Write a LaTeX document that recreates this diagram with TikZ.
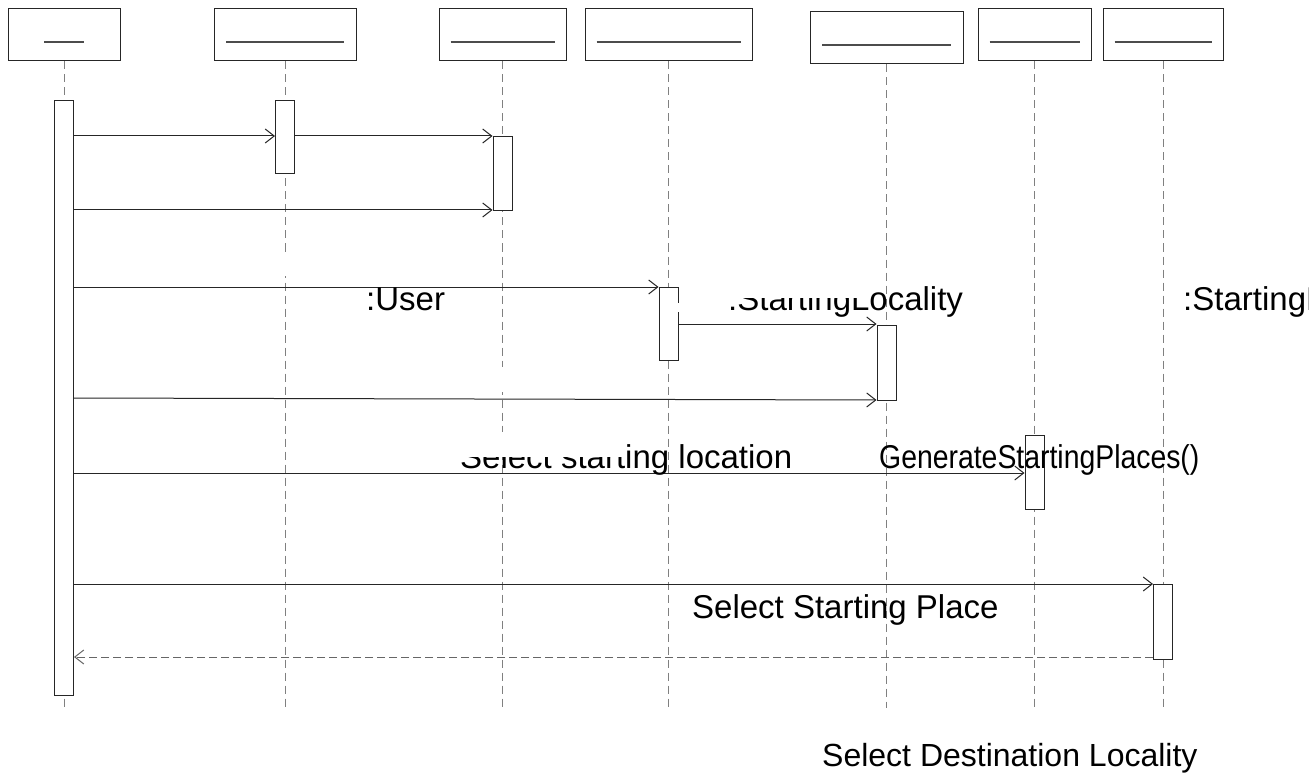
\documentclass[tikz,border=0pt]{standalone}
\usepackage{fontspec}
\setmainfont{Liberation Sans}
\usetikzlibrary{arrows.meta}
\begin{document}
\begin{tikzpicture}[x=1pt,y=-1pt,
  head/.style={draw=black!85, line width=1pt, fill=white, inner sep=0pt, minimum height=52pt},
  uline/.style={draw=black!70, line width=2.5pt},
  life/.style={draw=black!50, line width=1pt, dash pattern=on 8pt off 5pt},
  bar/.style={draw=black!85, line width=1pt, fill=white, inner sep=0pt, minimum width=19pt, anchor=north},
  msg/.style={draw=black!85, line width=1pt, -{Straight Barb[length=9pt,width=14pt,line width=1pt]}},
  ret/.style={msg, draw=black!60, dash pattern=on 8pt off 4pt},
  lbl/.style={anchor=base west, inner sep=0pt, font=\fontsize{33pt}{40pt}\selectfont},
  mask/.style={fill=white, draw=none}]

% canvas
\fill[white] (0,0) rectangle (1309,778);
\path[use as bounding box] (0,0) rectangle (1309,778);
\clip (0,0) rectangle (1309,778);

% object heads with empty underlined names
\foreach \n/\cx/\cy/\w/\hw in {h1/64/35/112/20, h2/285/35/142/59, h3/502.5/35/127/52,
    h4/668.5/35/167/72, h5/886.5/38/153/64.5, h6/1034.5/35/113/45, h7/1163/35/120/48.5}{
  \node[head, minimum width=\w pt] (\n) at (\cx,\cy) {};
  \draw[uline] ([xshift=-\hw pt, yshift=-7pt]\n.center) -- ([xshift=\hw pt, yshift=-7pt]\n.center);
}

% lifelines
\coordinate (bottom) at (0,708);
\foreach \n in {h1,h2,h3,h4,h5,h6,h7}{
  \draw[life] (\n.south) -- (\n.south |- bottom);
}

% activation bars
\node[bar, minimum height=595pt] (a1) at (h1.center |- 0,100) {};
\node[bar, minimum height=73pt]  (a2) at (h2.center |- 0,100) {};
\node[bar, minimum height=74pt]  (a3) at (h3.center |- 0,136) {};
\node[bar, minimum height=73pt]  (a4) at (h4.center |- 0,287) {};
\node[bar, minimum height=75pt]  (a5) at (h5.center |- 0,325) {};
\node[bar, minimum height=74pt]  (a6) at (h6.center |- 0,435) {};
\node[bar, minimum height=75pt]  (a7) at (h7.center |- 0,584) {};

% message levels
\coordinate (m1) at (0,136);
\coordinate (m2) at (0,210);
\coordinate (m3) at (0,287);
\coordinate (m4) at (0,324);
\coordinate (m5a) at (0,398);
\coordinate (m5b) at (0,400);
\coordinate (m6) at (0,473);
\coordinate (m7) at (0,584);
\coordinate (m8) at (0,657);

% messages
\draw[msg] (a1.east |- m1) -- (a2.west |- m1);
\draw[msg] (a2.east |- m1) -- (a3.west |- m1);
\draw[msg] (a1.east |- m2) -- (a3.west |- m2);
\draw[msg] (a1.east |- m3) -- (a4.west |- m3);
\draw[msg] (a4.east |- m4) -- (a5.west |- m4);
\draw[msg] (a1.east |- m5a) -- (a5.west |- m5b);
\draw[msg] (a1.east |- m6) -- (a6.west |- m6);
\draw[msg] (a1.east |- m7) -- (a7.west |- m7);
\draw[ret] (a7.west |- m8) -- (a1.east |- m8);

% labels
\node[lbl] (t1) at (366,310) {:User};
\node[lbl] (t2) at (728,310) {:StartingLocality};
\node[lbl] (t3) at (1183,310) {:StartingPlace};
\node[lbl] (t4) at (460,468) {Select starting location};
\node[lbl] (t5) at (879,468) {\scalebox{0.86}[1]{GenerateStartingPlaces()}};
\node[lbl] (t6) at (692,618) {Select Starting Place};
\node[lbl, font=\fontsize{32pt}{38pt}\selectfont] (t7) at (822,766) {Select Destination Locality};

% blank label backgrounds lying over the drawing
\fill[mask] (250,253) rectangle (482,276);
\fill[mask] (420,367) rectangle (600,392);
\fill[mask] (455,432) rectangle (627,457);
\fill[mask] (700,268) rectangle (867,298);
\fill[mask] (676,303) rectangle (700,312);
\end{tikzpicture}
\end{document}
